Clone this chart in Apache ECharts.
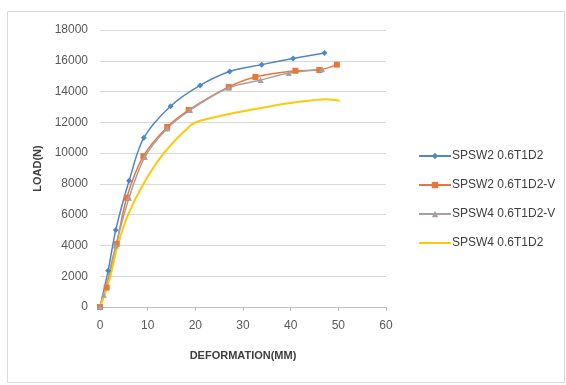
<!DOCTYPE html>
<html>
<head>
<meta charset="utf-8">
<script src="https://cdn.jsdelivr.net/npm/echarts@6/dist/echarts.min.js"></script>
<style>
html,body{margin:0;padding:0;background:#fff;}
#c{width:566px;height:385px;}
</style>
</head>
<body>
<div id="c"></div>
<script>
var seriesNames = ['SPSW2 0.6T1D2', 'SPSW2 0.6T1D2-V', 'SPSW4 0.6T1D2-V', 'SPSW4 0.6T1D2'];
var xTicks = [0, 10, 20, 30, 40, 50, 60];
var yTicks = [0, 2000, 4000, 6000, 8000, 10000, 12000, 14000, 16000, 18000];

var spsw2 = [[0,0],[1.7,2350],[3.3,5000],[6.1,8200],[9.2,11000],[14.8,13050],[21,14400],[27.2,15300],[33.9,15750],[40.5,16150],[47.1,16500]];
var spsw2v = [[0,0],[1.4,1260],[3.5,4100],[5.6,7100],[9.1,9800],[14.1,11700],[18.6,12800],[27,14300],[32.6,14950],[41,15350],[46,15400],[49.7,15750]];
var spsw4v = [[0,0],[0.8,800],[3.3,4000],[6.1,7100],[9.4,9750],[14.1,11600],[18.9,12800],[27,14250],[33.7,14750],[39.6,15200],[46.6,15450]];
var spsw4 = [[0,0],[2,1800],[3.7,4000],[5.9,6000],[9.1,8000],[13.4,10000],[19,11800],[21,12100],[28,12600],[35,13000],[41,13300],[47.5,13500],[50.3,13400]];

var colors = ['#4F86C6', '#E8783A', '#A8A0A0', '#FFC80A'];

var chart = echarts.init(document.getElementById('c'));
chart.setOption({
  animation: false,
  backgroundColor: '#fff',
  color: colors,
  graphic: [{
    type: 'rect',
    shape: {x: 7.5, y: 11.5, width: 557, height: 371},
    style: {fill: 'none', stroke: '#d9d9d9', lineWidth: 1},
    silent: true
  }],
  grid: {left: 100, right: 180, top: 30, bottom: 78, containLabel: false},
  xAxis: {
    type: 'value',
    min: xTicks[0], max: xTicks[xTicks.length - 1], interval: 10,
    name: 'DEFORMATION(MM)',
    nameLocation: 'middle',
    nameGap: 43,
    nameTextStyle: {fontFamily: 'Liberation Sans', fontSize: 11, fontWeight: 'bold', color: '#404040'},
    axisLine: {show: true, lineStyle: {color: '#bfbfbf'}},
    axisTick: {show: true, length: 4, lineStyle: {color: '#bfbfbf'}},
    axisLabel: {fontFamily: 'Liberation Sans', fontSize: 12, color: '#595959', margin: 13},
    splitLine: {show: false}
  },
  yAxis: {
    type: 'value',
    min: yTicks[0], max: yTicks[yTicks.length - 1], interval: 2000,
    name: 'LOAD(N)',
    nameLocation: 'middle',
    nameGap: 57,
    nameRotate: 90,
    nameTextStyle: {fontFamily: 'Liberation Sans', fontSize: 11, fontWeight: 'bold', color: '#404040'},
    axisLine: {show: false},
    axisTick: {show: false},
    axisLabel: {fontFamily: 'Liberation Sans', fontSize: 12, color: '#595959', margin: 12, formatter: function (v) { return String(v); }},
    splitLine: {show: true, lineStyle: {color: '#d9d9d9', width: 1}}
  },
  legend: {
    orient: 'vertical',
    left: 413,
    top: 145,
    itemGap: 17,
    itemWidth: 32,
    itemHeight: 8,
    textStyle: {fontFamily: 'Liberation Sans', fontSize: 12, color: '#404040', padding: [0, 0, 0, -4]},
    data: [
      {name: seriesNames[0]},
      {name: seriesNames[1]},
      {name: seriesNames[2]},
      {name: seriesNames[3], itemStyle: {opacity: 0}}
    ]
  },
  series: [
    {name: seriesNames[0], type: 'line', data: spsw2, smooth: 0.3, symbol: 'diamond', symbolSize: 6, lineStyle: {width: 1.5}},
    {name: seriesNames[1], type: 'line', data: spsw2v, smooth: 0.3, symbol: 'rect', symbolSize: 6, lineStyle: {width: 1.5}},
    {name: seriesNames[2], type: 'line', data: spsw4v, smooth: 0.3, symbol: 'triangle', symbolSize: 6, lineStyle: {width: 1.5}},
    {name: seriesNames[3], type: 'line', data: spsw4, smooth: 0.3, symbol: 'none', lineStyle: {width: 2}}
  ]
});
</script>
</body>
</html>
